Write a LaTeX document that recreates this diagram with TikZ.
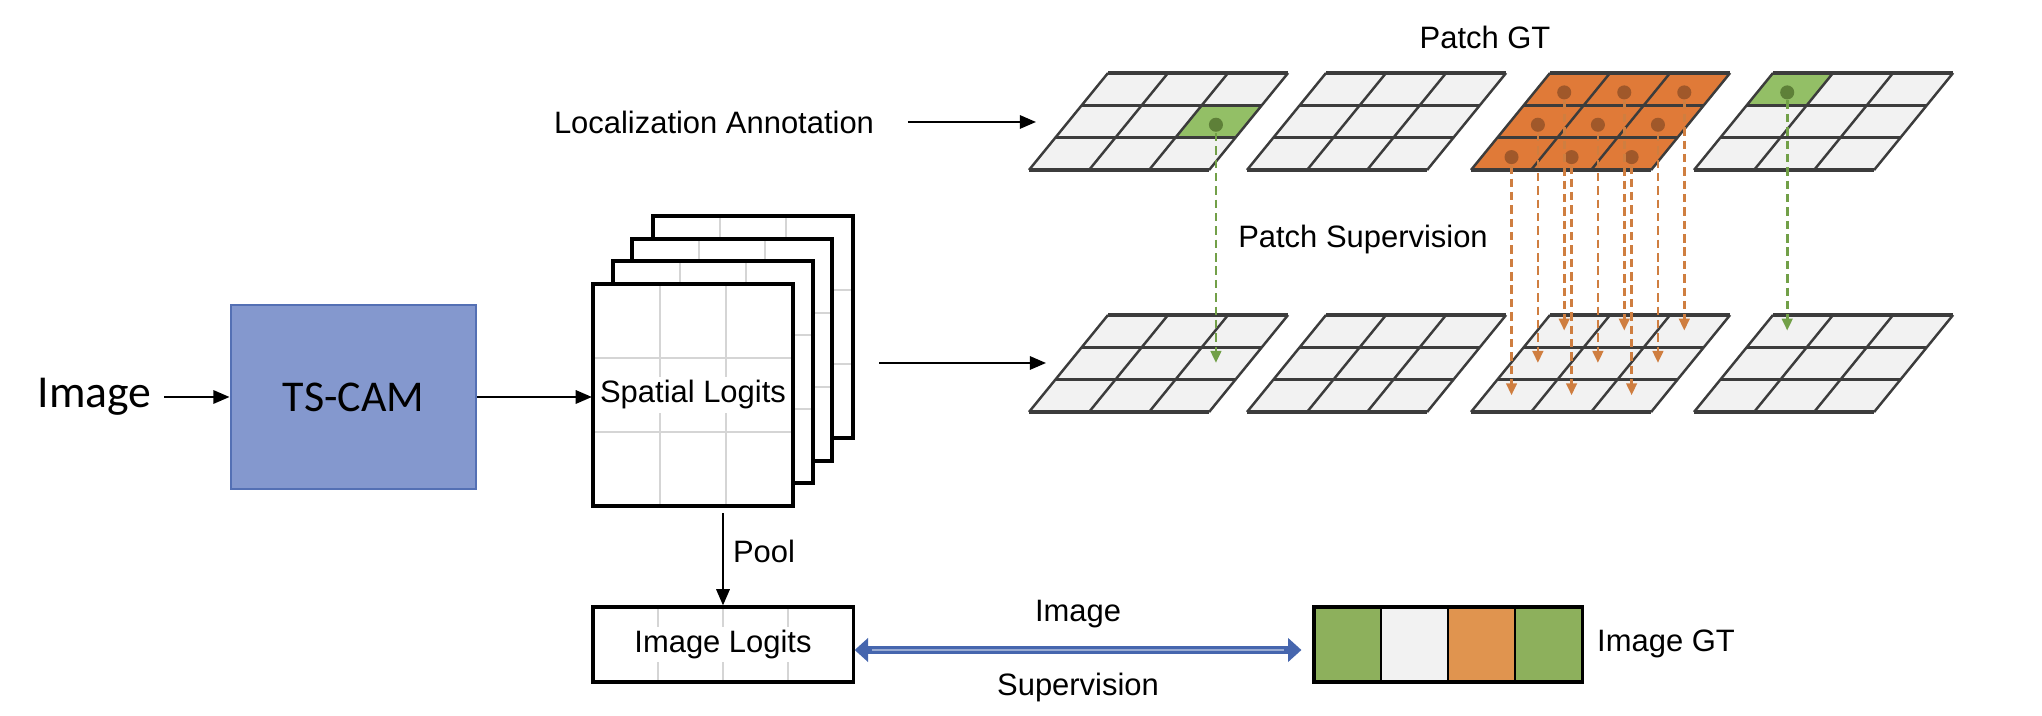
\documentclass[tikz,border=0pt]{standalone}
\usepackage{fontspec}
\setmainfont{Liberation Sans}
\newfontfamily\calibrifont{Carlito}
\usepackage{tikz}
\usetikzlibrary{positioning}
\usetikzlibrary{arrows.meta}
\usepackage{color}
\definecolor{cellgray}{HTML}{F2F2F2}
\definecolor{gridgray}{HTML}{3C3C3C}
\definecolor{cellgreen}{HTML}{93BF66}
\definecolor{cellorange}{HTML}{E07A38}
\definecolor{dotgreen}{HTML}{5E8038}
\definecolor{dotorange}{HTML}{A0582A}
\definecolor{dashgreen}{HTML}{72A048}
\definecolor{dashorange}{HTML}{CF7E40}
\definecolor{camblue}{HTML}{8498CE}
\definecolor{camedge}{HTML}{5470B4}
\definecolor{arrowblue}{HTML}{4666AE}
\definecolor{gtgreen}{HTML}{8DB05C}
\definecolor{gtorange}{HTML}{E0944F}
\definecolor{logitline}{HTML}{D5D5D5}

\begin{document}
\begin{tikzpicture}
[x=0.01cm, y=-0.01cm, line width=0.6pt,
 >={Triangle[length=4.6pt,width=3.8pt]},
 font=\fontsize{8.8}{10}\selectfont,
 gridframe/.style 2 args={shift={(#1,#2)}, x={(0.6cm,0cm)}, y={(-0.2633cm,-0.3233cm)}},
 gtdot/.style={circle, fill=#1, inner sep=0pt, minimum size=4pt},
 gsup/.style={-{Triangle[length=3.4pt,width=3pt]}, dashgreen, line width=0.75pt, dash pattern=on 2.4pt off 1.4pt},
 osup/.style={-{Triangle[length=3.4pt,width=3pt]}, dashorange, line width=0.75pt, dash pattern=on 2.4pt off 1.4pt}]

\useasboundingbox (0,0) rectangle (2042,716);

% Input and backbone:
\node[font=\calibrifont\fontsize{13}{15}\selectfont] (image) at (94.5,397) {Image};
\node[draw=camedge, fill=camblue, line width=0.8pt, minimum width=2.45cm, minimum height=1.84cm,
      font=\calibrifont\fontsize{12.5}{14}\selectfont] (tscam) at (353.5,397) {TS-CAM};

% Stack of spatial logit maps, back to front:
\foreach \dx/\dy in {60/-68,39/-45,20/-23,0/0} {
  \begin{scope}[shift={(593+\dx,284+\dy)}]
    \fill[white] (0,0) rectangle (200,222);
    \draw[logitline] (67,0) -- (67,222) (133,0) -- (133,222) (0,74) -- (200,74) (0,148) -- (200,148);
    \draw[line width=0.9pt] (0,0) rectangle (200,222);
  \end{scope}
}
\node[minimum width=2cm, minimum height=2.22cm, inner sep=0pt] (spatial) at (693,395) {};
\node[fill=white, inner sep=1pt] (splabel) at (spatial) {Spatial Logits};

\draw[->] (image) -- (tscam);
\draw[->] (tscam.east) -- (tscam.east -| spatial.west);

% Image logits and pooling:
\foreach \lx in {658,723,788}
  \draw[logitline] (\lx,607) -- (\lx,682);
\node[draw, line width=0.9pt, minimum width=2.6cm, minimum height=0.75cm, inner sep=0pt] (imglogits) at (723,644.5) {};
\node[fill=white, inner sep=1pt] (illabel) at (imglogits) {Image Logits};
\draw[->, shorten <=1.7pt] (spatial.south -| imglogits.north) -- (imglogits.north);
\node (pool) at (764,551) {Pool};

% Image ground truth bar:
\foreach \col [count=\i from 0] in {gtgreen,cellgray,gtorange,gtgreen}
  \fill[\col] (1314+67*\i,607) rectangle ++(67,75);
\foreach \i in {1,2,3}
  \draw (1314+67*\i,607) -- ++(0,75);
\node[draw, line width=0.9pt, minimum width=2.68cm, minimum height=0.75cm, inner sep=0pt] (imggt) at (1448,644.5) {};
\node (gtlabel) at (1666,644) {Image GT};

% Image supervision:
\draw[{Triangle[length=3.8pt,width=6.6pt]}-{Triangle[length=3.8pt,width=6.6pt]}, arrowblue, line width=2.1pt, shorten >=3.1pt]
  ([yshift=-0.055cm]imglogits.east) -- ([yshift=-0.055cm]imggt.west);
\draw[arrowblue!55!white, line width=0.45pt, shorten <=5pt, shorten >=8pt]
  ([yshift=-0.055cm]imglogits.east) -- ([yshift=-0.055cm]imggt.west);
\node (supimg) at (1078,614) {Image};
\node (supword) at (1078,688) {Supervision};

% Patch grids (top: ground truth, bottom: predictions):
\foreach \gx in {1108,1326,1550,1773}
  \foreach \gy in {73,315}
    \fill[cellgray, gridframe={\gx}{\gy}] (0,0) -- (3,0) -- (3,3) -- (0,3) -- cycle;
\fill[cellgreen, gridframe={1108}{73}] (2,1) -- (3,1) -- (3,2) -- (2,2) -- cycle;
\fill[cellorange, gridframe={1550}{73}] (0,0) -- (3,0) -- (3,3) -- (0,3) -- cycle;
\fill[cellgreen, gridframe={1773}{73}] (0,0) -- (1,0) -- (1,1) -- (0,1) -- cycle;
\foreach \gx in {1108,1326,1550,1773}
  \foreach \gy in {73,315}
    \foreach \k in {0,...,3} {
      \draw[gridgray, line width=0.7pt, gridframe={\gx}{\gy}] (\k,0) -- (\k,3);
      \draw[gridgray, line width=1pt, gridframe={\gx}{\gy}] (0,\k) -- (3,\k);
    }

\node (patchgt) at (1485,37) {Patch GT};
\node (patchsup) at (1363,240) {Patch Supervision};

% Localization annotation and spatial logits into the grids:
\node (locann) at (714,122) {Localization Annotation};
\coordinate (locin) at (1036,122);
\draw[->, shorten <=6pt] (locann) -- (locin);
\coordinate (spout) at (879,363);
\coordinate (spin) at (1046,363);
\draw[->] (spout) -- (spin);

% Patch supervision, one dashed arrow per annotated cell:
\begin{scope}[gridframe={1108}{73}]
  \node[gtdot=dotgreen] (ga) at (2.5,1.6) {};
\end{scope}
\begin{scope}[gridframe={1773}{73}]
  \node[gtdot=dotgreen] (gb) at (0.5,0.6) {};
\end{scope}
\begin{scope}[gridframe={1550}{73}]
  \foreach \c in {0,1,2}
    \foreach \r in {0,1,2}
      \node[gtdot=dotorange] (o\c\r) at (\c+0.5,\r+0.6) {};
\end{scope}
\foreach \n in {ga,gb}
  \draw[gsup] (\n.south) -- ([yshift=-2.38cm]\n.center);
\foreach \c in {0,1,2}
  \foreach \r in {0,1,2}
    \draw[osup] (o\c\r.south) -- ([yshift=-2.38cm]o\c\r.center);

\end{tikzpicture}
\end{document}
